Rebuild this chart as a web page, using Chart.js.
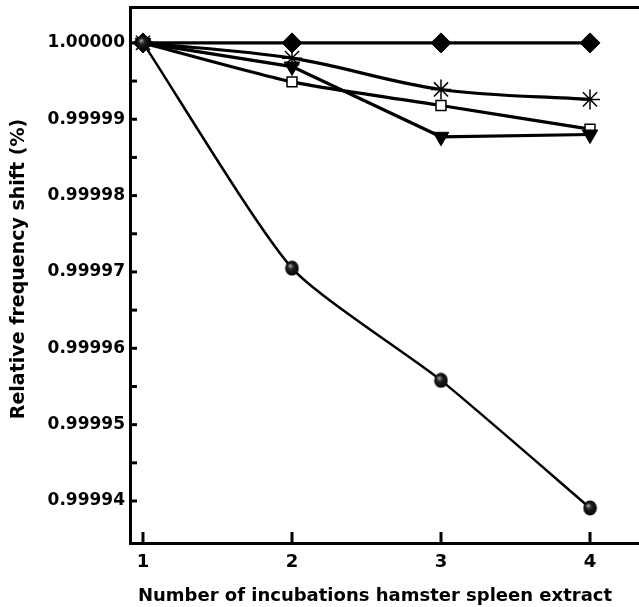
<!DOCTYPE html>
<html>
<head>
<meta charset="utf-8">
<script src="https://cdn.jsdelivr.net/npm/chart.js@4/dist/chart.umd.min.js"></script>
<style>
  html, body { margin: 0; padding: 0; background: #fff; overflow: hidden; }
  #wrap { width: 680px; height: 607px; position: relative; }
</style>
</head>
<body>
<div id="wrap"><canvas id="c"></canvas></div>
<script>
const incubations = [1, 2, 3, 4];
const diamondSeries = [1.0, 1.0, 1.0, 1.0];
const starSeries = [1.0, 0.9999980, 0.9999939, 0.9999926];
const squareSeries = [1.0, 0.9999949, 0.9999918, 0.9999887];
const triangleSeries = [1.0, 0.9999969, 0.9999877, 0.9999880];
const circleSeries = [1.0, 0.9999705, 0.9999558, 0.9999391];
const yTickValues = [0.99994, 0.99995, 0.99996, 0.99997, 0.99998, 0.99999, 1.0];
const yMinorTickValues = [0.999945, 0.999955, 0.999965, 0.999975, 0.999985, 0.999995];
const xTickValues = [1, 2, 3, 4];

function pts(arr) { return incubations.map((x, i) => ({ x: x, y: arr[i] })); }

// shaded sphere marker
const sphere = document.createElement('canvas');
sphere.width = 15; sphere.height = 16;
(function () {
  const g = sphere.getContext('2d');
  const grad = g.createRadialGradient(5.5, 5.5, 0.5, 7.5, 8, 7.5);
  grad.addColorStop(0, '#a0a0a0');
  grad.addColorStop(0.35, '#222');
  grad.addColorStop(1, '#000');
  g.fillStyle = grad;
  g.beginPath(); g.ellipse(7.5, 8, 6.8, 7.6, 0, 0, Math.PI * 2); g.fill();
})();

function noPad(s) { s.paddingTop = 0; s.paddingBottom = 0; s.paddingLeft = 0; s.paddingRight = 0; }

const tickPlugin = {
  id: 'innerTicks',
  afterUpdate(chart) {
    // shift axis titles to match the original placement
    const shifts = { x: [-30, 0], y: [0, -6] };
    Object.keys(shifts).forEach(id => {
      const s = chart.scales[id];
      if (!s || s._shifted) return;
      const orig = s.drawTitle;
      s.drawTitle = function () {
        const ctx = this.ctx;
        ctx.save(); ctx.translate(shifts[id][0], shifts[id][1]);
        orig.apply(this, arguments);
        ctx.restore();
      };
      s._shifted = true;
    });
  },
  afterDraw(chart) {
    const ctx = chart.ctx;
    const x = chart.scales.x, y = chart.scales.y;
    const ca = chart.chartArea;
    ctx.save();
    ctx.strokeStyle = '#000';
    ctx.lineWidth = 3;
    ctx.lineCap = 'butt';
    yTickValues.concat(yMinorTickValues).forEach(v => {
      const py = y.getPixelForValue(v);
      ctx.beginPath(); ctx.moveTo(ca.left, py); ctx.lineTo(ca.left + 7, py); ctx.stroke();
    });
    xTickValues.forEach(v => {
      const px = x.getPixelForValue(v);
      ctx.beginPath(); ctx.moveTo(px, ca.bottom); ctx.lineTo(px, ca.bottom - 11); ctx.stroke();
    });
    ctx.restore();
  }
};

const common = { borderColor: '#000', pointBorderColor: '#000', fill: false };
const FONT = 'DejaVu Sans';

new Chart(document.getElementById('c'), {
  type: 'line',
  data: {
    datasets: [
      Object.assign({}, common, { label: 'circle', data: pts(circleSeries), borderWidth: 2.5, tension: 0.2,
        pointStyle: sphere, pointRadius: 7 }),
      Object.assign({}, common, { label: 'triangle', data: pts(triangleSeries), borderWidth: 3.2, tension: 0,
        pointStyle: 'triangle', rotation: 180, pointRadius: 9, pointBackgroundColor: '#000', pointBorderWidth: 1 }),
      Object.assign({}, common, { label: 'square', data: pts(squareSeries), borderWidth: 3.2, tension: 0.2,
        pointStyle: 'rect', pointRadius: 7, pointBackgroundColor: '#fff', pointBorderWidth: 1.5 }),
      Object.assign({}, common, { label: 'star', data: pts(starSeries), borderWidth: 3.2, tension: 0.35,
        pointStyle: 'star', pointRadius: 10, pointBackgroundColor: '#000', pointBorderWidth: 1.5 }),
      Object.assign({}, common, { label: 'diamond', data: pts(diamondSeries), borderWidth: 3.2, tension: 0,
        pointStyle: 'rectRot', pointRadius: 10, pointBackgroundColor: '#000', pointBorderWidth: 1 })
    ]
  },
  options: {
    responsive: true,
    maintainAspectRatio: false,
    animation: false,
    layout: { padding: 0, autoPadding: false },
    plugins: { legend: { display: false }, tooltip: { enabled: false } },
    scales: {
      x: {
        type: 'linear',
        position: 'bottom',
        min: 0.9128,
        max: 4.604,
        afterBuildTicks: s => { s.ticks = xTickValues.map(v => ({ value: v })); },
        afterFit: s => { s.height = 64; noPad(s); },
        grid: { display: false, drawTicks: false },
        border: { display: true, color: '#000', width: 3 },
        ticks: {
          color: '#000', padding: 9,
          font: { family: FONT, weight: 'bold', size: 18 },
          callback: v => String(v)
        },
        title: {
          display: true, text: 'Number of incubations hamster spleen extract',
          color: '#000', padding: { top: 6, bottom: 0 },
          font: { family: FONT, weight: 'bold', size: 18 }
        }
      },
      x2: {
        type: 'linear',
        position: 'top',
        min: 0.9128,
        max: 4.604,
        afterFit: s => { s.height = 7; noPad(s); },
        grid: { display: false, drawTicks: false },
        border: { display: true, color: '#000', width: 3 },
        ticks: { display: false }
      },
      y: {
        type: 'linear',
        min: 0.9999345,
        max: 1.0000047,
        afterBuildTicks: s => { s.ticks = yTickValues.map(v => ({ value: v })); },
        afterFit: s => { s.width = 130; noPad(s); },
        grid: { display: false, drawTicks: false },
        border: { display: true, color: '#000', width: 3 },
        ticks: {
          color: '#000', padding: 5,
          font: { family: FONT, weight: 'bold', size: 17 },
          callback: v => Number(v).toFixed(5)
        },
        title: {
          display: true, text: 'Relative frequency shift (%)',
          color: '#000', padding: { top: 8, bottom: 4 },
          font: { family: FONT, weight: 'bold', size: 19 }
        }
      }
    }
  },
  plugins: [tickPlugin]
});
</script>
</body>
</html>
